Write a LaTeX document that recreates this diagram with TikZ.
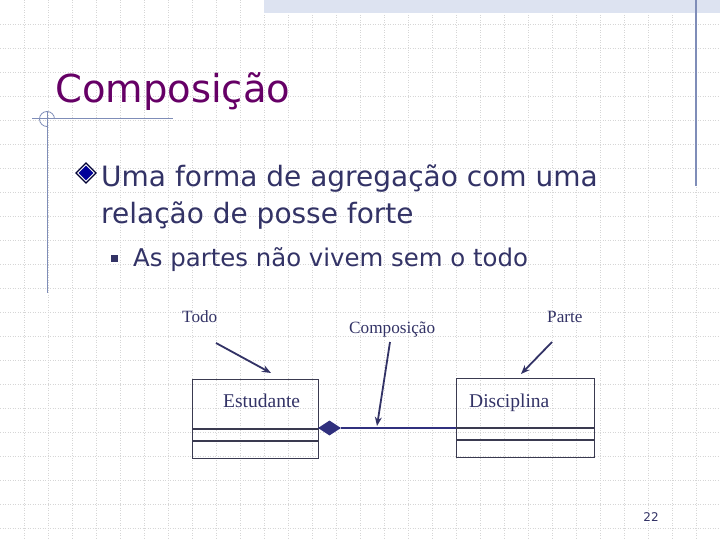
\documentclass[tikz,border=0pt]{standalone}
\usepackage{fontspec}
\setmainfont{Liberation Serif}
\newfontfamily\tah{DejaVu Sans}
\usetikzlibrary{shapes.geometric,arrows.meta}
\definecolor{titlec}{HTML}{660066}
\definecolor{bodyc}{HTML}{333366}
\definecolor{linec}{HTML}{30307E}
\definecolor{gridc}{HTML}{D6D6D6}
\definecolor{bandc}{HTML}{DDE3F1}
\definecolor{rulec}{HTML}{7F8DB8}
\definecolor{boxc}{HTML}{3A3A50}
\tikzset{
  gridline/.style={gridc, line width=0.55pt, dash pattern=on 0.9pt off 1.6pt},
  bodytext/.style={anchor=base west, inner sep=0pt, text=bodyc, font=\tah\fontsize{28}{30}\selectfont},
  subtext/.style={anchor=base west, inner sep=0pt, text=bodyc, font=\tah\fontsize{24.4}{26}\selectfont},
  umlbox/.style={draw=boxc, line width=0.9pt, rectangle, inner sep=0pt, anchor=north west},
  umltext/.style={text=bodyc, inner sep=0pt, anchor=base west, font=\fontsize{19.5}{21}\selectfont},
  annot/.style={text=bodyc, inner sep=0pt, anchor=base west, font=\fontsize{17.2}{19}\selectfont},
  pointer/.style={draw=bodyc, line width=1.8pt, -{Stealth[length=9pt,width=7pt]}},
}
\begin{document}
\begin{tikzpicture}[x=1pt,y=-1pt]
\useasboundingbox (0,0) rectangle (720,540);
\fill[white] (0,0) rectangle (720,540);
% grid
\foreach \i in {1,...,29} \draw[gridline] (24*\i,0) -- (24*\i,540);
\foreach \j in {1,...,22} \draw[gridline] (0,24*\j) -- (720,24*\j);
% decorations
\fill[bandc] (264,0) rectangle (720,13);
\draw[rulec, line width=1.2pt] (696,0) -- (696,186);
\draw[rulec, line width=1pt] (47,111) -- (47,293);
\draw[rulec, line width=1pt] (32,119) -- (173,119);
\draw[rulec, line width=0.8pt] (54.5,119) arc[start angle=0, end angle=-270, radius=7.5];
% title
\node[anchor=base west, inner sep=0pt, text=titlec, font=\tah\fontsize{38.5}{40}\selectfont] (title) at (55,103) {Composição};
% bullet
\node[diamond, fill=black!80!blue, minimum width=22pt, minimum height=22pt, inner sep=0pt] (b1) at (86,173) {};
\node[diamond, fill=white, minimum width=18pt, minimum height=18pt, inner sep=0pt] (b1w) at (86,173) {};
\node[diamond, fill=blue!60!black, minimum width=15pt, minimum height=15pt, inner sep=0pt] (b1i) at (86,173) {};
\node[bodytext] (l1) at (101,187) {Uma forma de agregação com uma};
\node[bodytext] (l2) at (101,224) {relação de posse forte};
\node[fill=bodyc, minimum width=7pt, minimum height=7pt, inner sep=0pt] (b2) at (114.5,258) {};
\node[subtext] (l3) at (133,266) {As partes não vivem sem o todo};
% UML boxes
\node[umlbox, minimum width=126pt, minimum height=49pt] (est) at (192,379) {};
\node[umlbox, minimum width=126pt, minimum height=11pt] (estA) at (est.south west) {};
\node[umlbox, minimum width=126pt, minimum height=17pt] (estB) at (estA.south west) {};
\node[umltext] (estT) at (223,407) {Estudante};
\node[umlbox, minimum width=138pt, minimum height=49pt] (dis) at (456,378) {};
\node[umlbox, minimum width=138pt, minimum height=11pt] (disA) at (dis.south west) {};
\node[umlbox, minimum width=138pt, minimum height=17pt] (disB) at (disA.south west) {};
\node[umltext] (disT) at (469,407) {Disciplina};
% composition
\node[diamond, fill=linec, minimum width=23pt, minimum height=15pt, inner sep=0pt] (dia) at (329.5,428) {};
\draw[linec, line width=2.2pt] (dia.east) -- (dia.east -| dis.west);
% annotations
\node[annot] (todo) at (182,322) {Todo};
\node[annot] (comp) at (349,333) {Composição};
\node[annot] (parte) at (547,322) {Parte};
\coordinate (todoS) at (216,343);
\coordinate (todoE) at (271,373);
\coordinate (compS) at (390,342);
\coordinate (compE) at (377,426);
\coordinate (parteS) at (552,342);
\coordinate (parteE) at (521,374);
\draw[pointer] (todoS) -- (todoE);
\draw[pointer] (compS) -- (compE);
\draw[pointer] (parteS) -- (parteE);
% page number
\node[text=bodyc, inner sep=0pt, font=\tah\fontsize{12}{14}\selectfont] (pg) at (651,517) {22};
\end{tikzpicture}
\end{document}
